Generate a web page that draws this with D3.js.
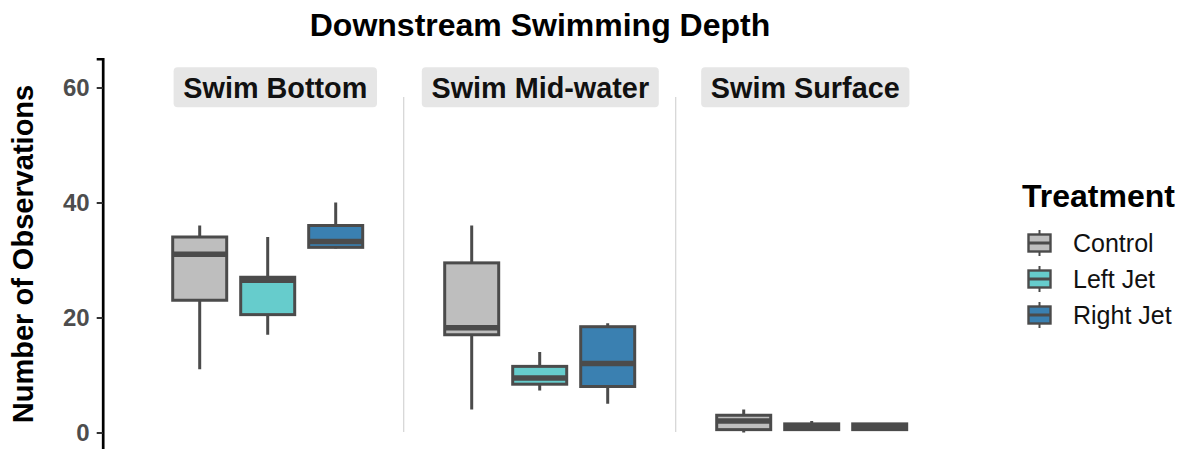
<!DOCTYPE html>
<html>
<head>
<meta charset="utf-8">
<script src="https://cdn.jsdelivr.net/npm/d3@7"></script>
<style>
  html, body { margin: 0; padding: 0; background: #ffffff; }
  svg { display: block; font-family: "Liberation Sans", Arial, Helvetica, sans-serif; }
</style>
</head>
<body>
<svg id="chart" width="1191" height="449"></svg>
<script>
// Swimming depth panels and treatment groups
const facets = ["Swim Bottom", "Swim Mid-water", "Swim Surface"];
const treatments = ["Control", "Left Jet", "Right Jet"];

// Box-plot summaries, one row per panel, one column per treatment
const whiskerLow  = [[11, 17, 32],   [4, 7.3, 5],     [0, 0.5, 0.5]];
const quartile1   = [[23, 20.5, 32.2], [17, 8.4, 8],  [0.5, 0.5, 0.5]];
const medians     = [[31, 26.5, 33.2], [18.2, 9.5, 12], [2, 1, 1]];
const quartile3   = [[34, 27, 36],   [29.5, 11.5, 18.4], [3, 1.5, 1.5]];
const whiskerHigh = [[36, 34, 40],   [36, 14, 19],    [4, 2, 1.5]];

const yTicks = [0, 20, 40, 60];
const fills = ["#bebebe", "#66cccc", "#3a80b1"];

const svg = d3.select("#chart");
const lineCol = "#4b4b4b";
const boxStroke = 3;
const medStroke = 5.5;
const boxW = 54;

// Scales
const y = d3.scaleLinear().domain([-3, 65]).range([449.75, 58.75]);
const panelX = d3.scaleBand().domain(facets).range([131.7, 947.7]);
const innerX = d3.scalePoint().domain(treatments).range([-68, 68]);
const stripX = d3.scaleBand().domain(facets).range([142.8, 937.8]);
const fill = d3.scaleOrdinal().domain(treatments).range(fills);

// Title
svg.append("text")
  .attr("x", 540).attr("y", 36)
  .attr("text-anchor", "middle")
  .attr("font-size", 32).attr("font-weight", "bold")
  .attr("fill", "#000")
  .text("Downstream Swimming Depth");

// Panel separators
facets.slice(1).forEach(f => {
  svg.append("line")
    .attr("x1", panelX(f)).attr("x2", panelX(f))
    .attr("y1", 97).attr("y2", 432)
    .attr("stroke", "#d4d4d4").attr("stroke-width", 1.2);
});

// Strip labels
facets.forEach(f => {
  const g = svg.append("g");
  const t = g.append("text")
    .attr("x", stripX(f) + stripX.bandwidth() / 2)
    .attr("y", 98.3)
    .attr("text-anchor", "middle")
    .attr("font-size", 28.8).attr("font-weight", "bold")
    .attr("fill", "#111")
    .text(f);
  const bb = t.node().getBBox();
  g.insert("rect", "text")
    .attr("x", bb.x - 9.7).attr("y", 67.3)
    .attr("width", bb.width + 19.4).attr("height", 40)
    .attr("rx", 4)
    .attr("fill", "#e6e6e6");
});

// Y axis
const yAxis = d3.axisLeft(y).tickValues(yTicks).tickSize(6).tickPadding(7).tickFormat(d3.format("d"));
const ax = svg.append("g").attr("transform", "translate(102.7,0)").call(yAxis);
ax.select(".domain").attr("stroke", "#000").attr("stroke-width", 2.7);
ax.selectAll(".tick line").attr("stroke", "#333").attr("stroke-width", 2);
ax.selectAll(".tick text")
  .attr("font-size", 24).attr("font-weight", "bold")
  .attr("fill", "#4d4d4d")
  .attr("font-family", "Liberation Sans, Arial, sans-serif");

svg.append("text")
  .attr("transform", `translate(33,254) rotate(-90)`)
  .attr("text-anchor", "middle")
  .attr("font-size", 29).attr("font-weight", "bold")
  .attr("fill", "#000")
  .text("Number of Observations");

// Boxes
facets.forEach((f, fi) => {
  const cx0 = panelX(f) + panelX.bandwidth() / 2;
  treatments.forEach((t, ti) => {
    const cx = cx0 + innerX(t);
    const g = svg.append("g");
    g.append("line")
      .attr("x1", cx).attr("x2", cx)
      .attr("y1", y(quartile3[fi][ti])).attr("y2", y(whiskerHigh[fi][ti]))
      .attr("stroke", lineCol).attr("stroke-width", boxStroke);
    g.append("line")
      .attr("x1", cx).attr("x2", cx)
      .attr("y1", y(quartile1[fi][ti])).attr("y2", y(whiskerLow[fi][ti]))
      .attr("stroke", lineCol).attr("stroke-width", boxStroke);
    g.append("rect")
      .attr("x", cx - boxW / 2).attr("width", boxW)
      .attr("y", y(quartile3[fi][ti]))
      .attr("height", y(quartile1[fi][ti]) - y(quartile3[fi][ti]))
      .attr("fill", fill(t))
      .attr("stroke", lineCol).attr("stroke-width", boxStroke);
    g.append("line")
      .attr("x1", cx - boxW / 2).attr("x2", cx + boxW / 2)
      .attr("y1", y(medians[fi][ti])).attr("y2", y(medians[fi][ti]))
      .attr("stroke", lineCol).attr("stroke-width", medStroke);
  });
});

// Legend
const legend = svg.append("g").attr("transform", "translate(1022,0)");
legend.append("text")
  .attr("x", 0).attr("y", 207)
  .attr("font-size", 32).attr("font-weight", "bold")
  .attr("fill", "#000")
  .text("Treatment");
const keyY = d3.scalePoint().domain(treatments).range([243, 315]);
treatments.forEach(t => {
  const cy = keyY(t);
  const kx = 17.5;
  legend.append("line")
    .attr("x1", kx).attr("x2", kx)
    .attr("y1", cy - 13).attr("y2", cy + 13)
    .attr("stroke", lineCol).attr("stroke-width", 2);
  legend.append("rect")
    .attr("x", kx - 11).attr("y", cy - 8.5)
    .attr("width", 22).attr("height", 17)
    .attr("fill", fill(t))
    .attr("stroke", lineCol).attr("stroke-width", 2.4);
  legend.append("line")
    .attr("x1", kx - 11).attr("x2", kx + 11)
    .attr("y1", cy).attr("y2", cy)
    .attr("stroke", lineCol).attr("stroke-width", 3);
  legend.append("text")
    .attr("x", 51).attr("y", cy)
    .attr("dy", "0.36em")
    .attr("font-size", 25)
    .attr("fill", "#111")
    .text(t);
});
</script>
</body>
</html>
